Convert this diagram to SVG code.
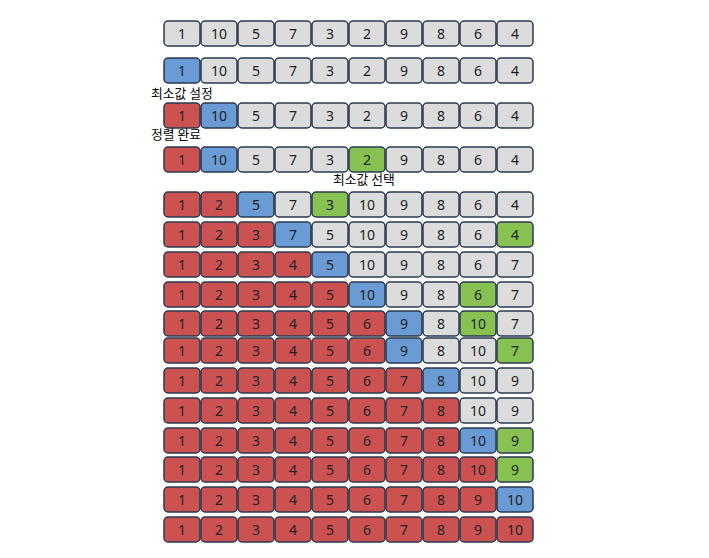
<svg xmlns="http://www.w3.org/2000/svg" width="709" height="558" viewBox="0 0 709 558">
<style>
rect{stroke:#2a3a50;stroke-width:1.5}
.g{fill:#dcdcdc}.b{fill:#6b9bd4}.r{fill:#cc5252}.v{fill:#87c152}
text.n{font-family:"Noto Sans","DejaVu Sans",sans-serif;font-size:14px;fill:#222;text-anchor:middle}
text.l{font-family:"Noto Sans CJK KR",sans-serif;font-size:12.8px;fill:#000}
</style>
<rect x="0" y="0" width="709" height="558" style="fill:#fff;stroke:none"/>
<g id="rows">
<g id="r1" transform="translate(0,21)">
<g id="r1c0"><rect class="g" x="164" y="0" width="36" height="25" rx="4"/><text class="n" x="182" y="17.5">1</text></g>
<g id="r1c1"><rect class="g" x="201" y="0" width="36" height="25" rx="4"/><text class="n" x="219" y="17.5">10</text></g>
<g id="r1c2"><rect class="g" x="238" y="0" width="36" height="25" rx="4"/><text class="n" x="256" y="17.5">5</text></g>
<g id="r1c3"><rect class="g" x="275" y="0" width="36" height="25" rx="4"/><text class="n" x="293" y="17.5">7</text></g>
<g id="r1c4"><rect class="g" x="312" y="0" width="36" height="25" rx="4"/><text class="n" x="330" y="17.5">3</text></g>
<g id="r1c5"><rect class="g" x="349" y="0" width="36" height="25" rx="4"/><text class="n" x="367" y="17.5">2</text></g>
<g id="r1c6"><rect class="g" x="386" y="0" width="36" height="25" rx="4"/><text class="n" x="404" y="17.5">9</text></g>
<g id="r1c7"><rect class="g" x="423" y="0" width="36" height="25" rx="4"/><text class="n" x="441" y="17.5">8</text></g>
<g id="r1c8"><rect class="g" x="460" y="0" width="36" height="25" rx="4"/><text class="n" x="478" y="17.5">6</text></g>
<g id="r1c9"><rect class="g" x="497" y="0" width="36" height="25" rx="4"/><text class="n" x="515" y="17.5">4</text></g>
</g>
<g id="r2" transform="translate(0,58)">
<g id="r2c0"><rect class="b" x="164" y="0" width="36" height="25" rx="4"/><text class="n" x="182" y="17.5">1</text></g>
<g id="r2c1"><rect class="g" x="201" y="0" width="36" height="25" rx="4"/><text class="n" x="219" y="17.5">10</text></g>
<g id="r2c2"><rect class="g" x="238" y="0" width="36" height="25" rx="4"/><text class="n" x="256" y="17.5">5</text></g>
<g id="r2c3"><rect class="g" x="275" y="0" width="36" height="25" rx="4"/><text class="n" x="293" y="17.5">7</text></g>
<g id="r2c4"><rect class="g" x="312" y="0" width="36" height="25" rx="4"/><text class="n" x="330" y="17.5">3</text></g>
<g id="r2c5"><rect class="g" x="349" y="0" width="36" height="25" rx="4"/><text class="n" x="367" y="17.5">2</text></g>
<g id="r2c6"><rect class="g" x="386" y="0" width="36" height="25" rx="4"/><text class="n" x="404" y="17.5">9</text></g>
<g id="r2c7"><rect class="g" x="423" y="0" width="36" height="25" rx="4"/><text class="n" x="441" y="17.5">8</text></g>
<g id="r2c8"><rect class="g" x="460" y="0" width="36" height="25" rx="4"/><text class="n" x="478" y="17.5">6</text></g>
<g id="r2c9"><rect class="g" x="497" y="0" width="36" height="25" rx="4"/><text class="n" x="515" y="17.5">4</text></g>
</g>
<g id="r3" transform="translate(0,103)">
<g id="r3c0"><rect class="r" x="164" y="0" width="36" height="25" rx="4"/><text class="n" x="182" y="17.5">1</text></g>
<g id="r3c1"><rect class="b" x="201" y="0" width="36" height="25" rx="4"/><text class="n" x="219" y="17.5">10</text></g>
<g id="r3c2"><rect class="g" x="238" y="0" width="36" height="25" rx="4"/><text class="n" x="256" y="17.5">5</text></g>
<g id="r3c3"><rect class="g" x="275" y="0" width="36" height="25" rx="4"/><text class="n" x="293" y="17.5">7</text></g>
<g id="r3c4"><rect class="g" x="312" y="0" width="36" height="25" rx="4"/><text class="n" x="330" y="17.5">3</text></g>
<g id="r3c5"><rect class="g" x="349" y="0" width="36" height="25" rx="4"/><text class="n" x="367" y="17.5">2</text></g>
<g id="r3c6"><rect class="g" x="386" y="0" width="36" height="25" rx="4"/><text class="n" x="404" y="17.5">9</text></g>
<g id="r3c7"><rect class="g" x="423" y="0" width="36" height="25" rx="4"/><text class="n" x="441" y="17.5">8</text></g>
<g id="r3c8"><rect class="g" x="460" y="0" width="36" height="25" rx="4"/><text class="n" x="478" y="17.5">6</text></g>
<g id="r3c9"><rect class="g" x="497" y="0" width="36" height="25" rx="4"/><text class="n" x="515" y="17.5">4</text></g>
</g>
<g id="r4" transform="translate(0,147)">
<g id="r4c0"><rect class="r" x="164" y="0" width="36" height="25" rx="4"/><text class="n" x="182" y="17.5">1</text></g>
<g id="r4c1"><rect class="b" x="201" y="0" width="36" height="25" rx="4"/><text class="n" x="219" y="17.5">10</text></g>
<g id="r4c2"><rect class="g" x="238" y="0" width="36" height="25" rx="4"/><text class="n" x="256" y="17.5">5</text></g>
<g id="r4c3"><rect class="g" x="275" y="0" width="36" height="25" rx="4"/><text class="n" x="293" y="17.5">7</text></g>
<g id="r4c4"><rect class="g" x="312" y="0" width="36" height="25" rx="4"/><text class="n" x="330" y="17.5">3</text></g>
<g id="r4c5"><rect class="v" x="349" y="0" width="36" height="25" rx="4"/><text class="n" x="367" y="17.5">2</text></g>
<g id="r4c6"><rect class="g" x="386" y="0" width="36" height="25" rx="4"/><text class="n" x="404" y="17.5">9</text></g>
<g id="r4c7"><rect class="g" x="423" y="0" width="36" height="25" rx="4"/><text class="n" x="441" y="17.5">8</text></g>
<g id="r4c8"><rect class="g" x="460" y="0" width="36" height="25" rx="4"/><text class="n" x="478" y="17.5">6</text></g>
<g id="r4c9"><rect class="g" x="497" y="0" width="36" height="25" rx="4"/><text class="n" x="515" y="17.5">4</text></g>
</g>
<g id="r5" transform="translate(0,192)">
<g id="r5c0"><rect class="r" x="164" y="0" width="36" height="25" rx="4"/><text class="n" x="182" y="17.5">1</text></g>
<g id="r5c1"><rect class="r" x="201" y="0" width="36" height="25" rx="4"/><text class="n" x="219" y="17.5">2</text></g>
<g id="r5c2"><rect class="b" x="238" y="0" width="36" height="25" rx="4"/><text class="n" x="256" y="17.5">5</text></g>
<g id="r5c3"><rect class="g" x="275" y="0" width="36" height="25" rx="4"/><text class="n" x="293" y="17.5">7</text></g>
<g id="r5c4"><rect class="v" x="312" y="0" width="36" height="25" rx="4"/><text class="n" x="330" y="17.5">3</text></g>
<g id="r5c5"><rect class="g" x="349" y="0" width="36" height="25" rx="4"/><text class="n" x="367" y="17.5">10</text></g>
<g id="r5c6"><rect class="g" x="386" y="0" width="36" height="25" rx="4"/><text class="n" x="404" y="17.5">9</text></g>
<g id="r5c7"><rect class="g" x="423" y="0" width="36" height="25" rx="4"/><text class="n" x="441" y="17.5">8</text></g>
<g id="r5c8"><rect class="g" x="460" y="0" width="36" height="25" rx="4"/><text class="n" x="478" y="17.5">6</text></g>
<g id="r5c9"><rect class="g" x="497" y="0" width="36" height="25" rx="4"/><text class="n" x="515" y="17.5">4</text></g>
</g>
<g id="r6" transform="translate(0,222)">
<g id="r6c0"><rect class="r" x="164" y="0" width="36" height="25" rx="4"/><text class="n" x="182" y="17.5">1</text></g>
<g id="r6c1"><rect class="r" x="201" y="0" width="36" height="25" rx="4"/><text class="n" x="219" y="17.5">2</text></g>
<g id="r6c2"><rect class="r" x="238" y="0" width="36" height="25" rx="4"/><text class="n" x="256" y="17.5">3</text></g>
<g id="r6c3"><rect class="b" x="275" y="0" width="36" height="25" rx="4"/><text class="n" x="293" y="17.5">7</text></g>
<g id="r6c4"><rect class="g" x="312" y="0" width="36" height="25" rx="4"/><text class="n" x="330" y="17.5">5</text></g>
<g id="r6c5"><rect class="g" x="349" y="0" width="36" height="25" rx="4"/><text class="n" x="367" y="17.5">10</text></g>
<g id="r6c6"><rect class="g" x="386" y="0" width="36" height="25" rx="4"/><text class="n" x="404" y="17.5">9</text></g>
<g id="r6c7"><rect class="g" x="423" y="0" width="36" height="25" rx="4"/><text class="n" x="441" y="17.5">8</text></g>
<g id="r6c8"><rect class="g" x="460" y="0" width="36" height="25" rx="4"/><text class="n" x="478" y="17.5">6</text></g>
<g id="r6c9"><rect class="v" x="497" y="0" width="36" height="25" rx="4"/><text class="n" x="515" y="17.5">4</text></g>
</g>
<g id="r7" transform="translate(0,252)">
<g id="r7c0"><rect class="r" x="164" y="0" width="36" height="25" rx="4"/><text class="n" x="182" y="17.5">1</text></g>
<g id="r7c1"><rect class="r" x="201" y="0" width="36" height="25" rx="4"/><text class="n" x="219" y="17.5">2</text></g>
<g id="r7c2"><rect class="r" x="238" y="0" width="36" height="25" rx="4"/><text class="n" x="256" y="17.5">3</text></g>
<g id="r7c3"><rect class="r" x="275" y="0" width="36" height="25" rx="4"/><text class="n" x="293" y="17.5">4</text></g>
<g id="r7c4"><rect class="b" x="312" y="0" width="36" height="25" rx="4"/><text class="n" x="330" y="17.5">5</text></g>
<g id="r7c5"><rect class="g" x="349" y="0" width="36" height="25" rx="4"/><text class="n" x="367" y="17.5">10</text></g>
<g id="r7c6"><rect class="g" x="386" y="0" width="36" height="25" rx="4"/><text class="n" x="404" y="17.5">9</text></g>
<g id="r7c7"><rect class="g" x="423" y="0" width="36" height="25" rx="4"/><text class="n" x="441" y="17.5">8</text></g>
<g id="r7c8"><rect class="g" x="460" y="0" width="36" height="25" rx="4"/><text class="n" x="478" y="17.5">6</text></g>
<g id="r7c9"><rect class="g" x="497" y="0" width="36" height="25" rx="4"/><text class="n" x="515" y="17.5">7</text></g>
</g>
<g id="r8" transform="translate(0,282)">
<g id="r8c0"><rect class="r" x="164" y="0" width="36" height="25" rx="4"/><text class="n" x="182" y="17.5">1</text></g>
<g id="r8c1"><rect class="r" x="201" y="0" width="36" height="25" rx="4"/><text class="n" x="219" y="17.5">2</text></g>
<g id="r8c2"><rect class="r" x="238" y="0" width="36" height="25" rx="4"/><text class="n" x="256" y="17.5">3</text></g>
<g id="r8c3"><rect class="r" x="275" y="0" width="36" height="25" rx="4"/><text class="n" x="293" y="17.5">4</text></g>
<g id="r8c4"><rect class="r" x="312" y="0" width="36" height="25" rx="4"/><text class="n" x="330" y="17.5">5</text></g>
<g id="r8c5"><rect class="b" x="349" y="0" width="36" height="25" rx="4"/><text class="n" x="367" y="17.5">10</text></g>
<g id="r8c6"><rect class="g" x="386" y="0" width="36" height="25" rx="4"/><text class="n" x="404" y="17.5">9</text></g>
<g id="r8c7"><rect class="g" x="423" y="0" width="36" height="25" rx="4"/><text class="n" x="441" y="17.5">8</text></g>
<g id="r8c8"><rect class="v" x="460" y="0" width="36" height="25" rx="4"/><text class="n" x="478" y="17.5">6</text></g>
<g id="r8c9"><rect class="g" x="497" y="0" width="36" height="25" rx="4"/><text class="n" x="515" y="17.5">7</text></g>
</g>
<g id="r9" transform="translate(0,311)">
<g id="r9c0"><rect class="r" x="164" y="0" width="36" height="25" rx="4"/><text class="n" x="182" y="17.5">1</text></g>
<g id="r9c1"><rect class="r" x="201" y="0" width="36" height="25" rx="4"/><text class="n" x="219" y="17.5">2</text></g>
<g id="r9c2"><rect class="r" x="238" y="0" width="36" height="25" rx="4"/><text class="n" x="256" y="17.5">3</text></g>
<g id="r9c3"><rect class="r" x="275" y="0" width="36" height="25" rx="4"/><text class="n" x="293" y="17.5">4</text></g>
<g id="r9c4"><rect class="r" x="312" y="0" width="36" height="25" rx="4"/><text class="n" x="330" y="17.5">5</text></g>
<g id="r9c5"><rect class="r" x="349" y="0" width="36" height="25" rx="4"/><text class="n" x="367" y="17.5">6</text></g>
<g id="r9c6"><rect class="b" x="386" y="0" width="36" height="25" rx="4"/><text class="n" x="404" y="17.5">9</text></g>
<g id="r9c7"><rect class="g" x="423" y="0" width="36" height="25" rx="4"/><text class="n" x="441" y="17.5">8</text></g>
<g id="r9c8"><rect class="v" x="460" y="0" width="36" height="25" rx="4"/><text class="n" x="478" y="17.5">10</text></g>
<g id="r9c9"><rect class="g" x="497" y="0" width="36" height="25" rx="4"/><text class="n" x="515" y="17.5">7</text></g>
</g>
<g id="r10" transform="translate(0,338)">
<g id="r10c0"><rect class="r" x="164" y="0" width="36" height="25" rx="4"/><text class="n" x="182" y="17.5">1</text></g>
<g id="r10c1"><rect class="r" x="201" y="0" width="36" height="25" rx="4"/><text class="n" x="219" y="17.5">2</text></g>
<g id="r10c2"><rect class="r" x="238" y="0" width="36" height="25" rx="4"/><text class="n" x="256" y="17.5">3</text></g>
<g id="r10c3"><rect class="r" x="275" y="0" width="36" height="25" rx="4"/><text class="n" x="293" y="17.5">4</text></g>
<g id="r10c4"><rect class="r" x="312" y="0" width="36" height="25" rx="4"/><text class="n" x="330" y="17.5">5</text></g>
<g id="r10c5"><rect class="r" x="349" y="0" width="36" height="25" rx="4"/><text class="n" x="367" y="17.5">6</text></g>
<g id="r10c6"><rect class="b" x="386" y="0" width="36" height="25" rx="4"/><text class="n" x="404" y="17.5">9</text></g>
<g id="r10c7"><rect class="g" x="423" y="0" width="36" height="25" rx="4"/><text class="n" x="441" y="17.5">8</text></g>
<g id="r10c8"><rect class="g" x="460" y="0" width="36" height="25" rx="4"/><text class="n" x="478" y="17.5">10</text></g>
<g id="r10c9"><rect class="v" x="497" y="0" width="36" height="25" rx="4"/><text class="n" x="515" y="17.5">7</text></g>
</g>
<g id="r11" transform="translate(0,368)">
<g id="r11c0"><rect class="r" x="164" y="0" width="36" height="25" rx="4"/><text class="n" x="182" y="17.5">1</text></g>
<g id="r11c1"><rect class="r" x="201" y="0" width="36" height="25" rx="4"/><text class="n" x="219" y="17.5">2</text></g>
<g id="r11c2"><rect class="r" x="238" y="0" width="36" height="25" rx="4"/><text class="n" x="256" y="17.5">3</text></g>
<g id="r11c3"><rect class="r" x="275" y="0" width="36" height="25" rx="4"/><text class="n" x="293" y="17.5">4</text></g>
<g id="r11c4"><rect class="r" x="312" y="0" width="36" height="25" rx="4"/><text class="n" x="330" y="17.5">5</text></g>
<g id="r11c5"><rect class="r" x="349" y="0" width="36" height="25" rx="4"/><text class="n" x="367" y="17.5">6</text></g>
<g id="r11c6"><rect class="r" x="386" y="0" width="36" height="25" rx="4"/><text class="n" x="404" y="17.5">7</text></g>
<g id="r11c7"><rect class="b" x="423" y="0" width="36" height="25" rx="4"/><text class="n" x="441" y="17.5">8</text></g>
<g id="r11c8"><rect class="g" x="460" y="0" width="36" height="25" rx="4"/><text class="n" x="478" y="17.5">10</text></g>
<g id="r11c9"><rect class="g" x="497" y="0" width="36" height="25" rx="4"/><text class="n" x="515" y="17.5">9</text></g>
</g>
<g id="r12" transform="translate(0,398)">
<g id="r12c0"><rect class="r" x="164" y="0" width="36" height="25" rx="4"/><text class="n" x="182" y="17.5">1</text></g>
<g id="r12c1"><rect class="r" x="201" y="0" width="36" height="25" rx="4"/><text class="n" x="219" y="17.5">2</text></g>
<g id="r12c2"><rect class="r" x="238" y="0" width="36" height="25" rx="4"/><text class="n" x="256" y="17.5">3</text></g>
<g id="r12c3"><rect class="r" x="275" y="0" width="36" height="25" rx="4"/><text class="n" x="293" y="17.5">4</text></g>
<g id="r12c4"><rect class="r" x="312" y="0" width="36" height="25" rx="4"/><text class="n" x="330" y="17.5">5</text></g>
<g id="r12c5"><rect class="r" x="349" y="0" width="36" height="25" rx="4"/><text class="n" x="367" y="17.5">6</text></g>
<g id="r12c6"><rect class="r" x="386" y="0" width="36" height="25" rx="4"/><text class="n" x="404" y="17.5">7</text></g>
<g id="r12c7"><rect class="r" x="423" y="0" width="36" height="25" rx="4"/><text class="n" x="441" y="17.5">8</text></g>
<g id="r12c8"><rect class="g" x="460" y="0" width="36" height="25" rx="4"/><text class="n" x="478" y="17.5">10</text></g>
<g id="r12c9"><rect class="g" x="497" y="0" width="36" height="25" rx="4"/><text class="n" x="515" y="17.5">9</text></g>
</g>
<g id="r13" transform="translate(0,428)">
<g id="r13c0"><rect class="r" x="164" y="0" width="36" height="25" rx="4"/><text class="n" x="182" y="17.5">1</text></g>
<g id="r13c1"><rect class="r" x="201" y="0" width="36" height="25" rx="4"/><text class="n" x="219" y="17.5">2</text></g>
<g id="r13c2"><rect class="r" x="238" y="0" width="36" height="25" rx="4"/><text class="n" x="256" y="17.5">3</text></g>
<g id="r13c3"><rect class="r" x="275" y="0" width="36" height="25" rx="4"/><text class="n" x="293" y="17.5">4</text></g>
<g id="r13c4"><rect class="r" x="312" y="0" width="36" height="25" rx="4"/><text class="n" x="330" y="17.5">5</text></g>
<g id="r13c5"><rect class="r" x="349" y="0" width="36" height="25" rx="4"/><text class="n" x="367" y="17.5">6</text></g>
<g id="r13c6"><rect class="r" x="386" y="0" width="36" height="25" rx="4"/><text class="n" x="404" y="17.5">7</text></g>
<g id="r13c7"><rect class="r" x="423" y="0" width="36" height="25" rx="4"/><text class="n" x="441" y="17.5">8</text></g>
<g id="r13c8"><rect class="b" x="460" y="0" width="36" height="25" rx="4"/><text class="n" x="478" y="17.5">10</text></g>
<g id="r13c9"><rect class="v" x="497" y="0" width="36" height="25" rx="4"/><text class="n" x="515" y="17.5">9</text></g>
</g>
<g id="r14" transform="translate(0,457)">
<g id="r14c0"><rect class="r" x="164" y="0" width="36" height="25" rx="4"/><text class="n" x="182" y="17.5">1</text></g>
<g id="r14c1"><rect class="r" x="201" y="0" width="36" height="25" rx="4"/><text class="n" x="219" y="17.5">2</text></g>
<g id="r14c2"><rect class="r" x="238" y="0" width="36" height="25" rx="4"/><text class="n" x="256" y="17.5">3</text></g>
<g id="r14c3"><rect class="r" x="275" y="0" width="36" height="25" rx="4"/><text class="n" x="293" y="17.5">4</text></g>
<g id="r14c4"><rect class="r" x="312" y="0" width="36" height="25" rx="4"/><text class="n" x="330" y="17.5">5</text></g>
<g id="r14c5"><rect class="r" x="349" y="0" width="36" height="25" rx="4"/><text class="n" x="367" y="17.5">6</text></g>
<g id="r14c6"><rect class="r" x="386" y="0" width="36" height="25" rx="4"/><text class="n" x="404" y="17.5">7</text></g>
<g id="r14c7"><rect class="r" x="423" y="0" width="36" height="25" rx="4"/><text class="n" x="441" y="17.5">8</text></g>
<g id="r14c8"><rect class="r" x="460" y="0" width="36" height="25" rx="4"/><text class="n" x="478" y="17.5">10</text></g>
<g id="r14c9"><rect class="v" x="497" y="0" width="36" height="25" rx="4"/><text class="n" x="515" y="17.5">9</text></g>
</g>
<g id="r15" transform="translate(0,487)">
<g id="r15c0"><rect class="r" x="164" y="0" width="36" height="25" rx="4"/><text class="n" x="182" y="17.5">1</text></g>
<g id="r15c1"><rect class="r" x="201" y="0" width="36" height="25" rx="4"/><text class="n" x="219" y="17.5">2</text></g>
<g id="r15c2"><rect class="r" x="238" y="0" width="36" height="25" rx="4"/><text class="n" x="256" y="17.5">3</text></g>
<g id="r15c3"><rect class="r" x="275" y="0" width="36" height="25" rx="4"/><text class="n" x="293" y="17.5">4</text></g>
<g id="r15c4"><rect class="r" x="312" y="0" width="36" height="25" rx="4"/><text class="n" x="330" y="17.5">5</text></g>
<g id="r15c5"><rect class="r" x="349" y="0" width="36" height="25" rx="4"/><text class="n" x="367" y="17.5">6</text></g>
<g id="r15c6"><rect class="r" x="386" y="0" width="36" height="25" rx="4"/><text class="n" x="404" y="17.5">7</text></g>
<g id="r15c7"><rect class="r" x="423" y="0" width="36" height="25" rx="4"/><text class="n" x="441" y="17.5">8</text></g>
<g id="r15c8"><rect class="r" x="460" y="0" width="36" height="25" rx="4"/><text class="n" x="478" y="17.5">9</text></g>
<g id="r15c9"><rect class="b" x="497" y="0" width="36" height="25" rx="4"/><text class="n" x="515" y="17.5">10</text></g>
</g>
<g id="r16" transform="translate(0,517)">
<g id="r16c0"><rect class="r" x="164" y="0" width="36" height="25" rx="4"/><text class="n" x="182" y="17.5">1</text></g>
<g id="r16c1"><rect class="r" x="201" y="0" width="36" height="25" rx="4"/><text class="n" x="219" y="17.5">2</text></g>
<g id="r16c2"><rect class="r" x="238" y="0" width="36" height="25" rx="4"/><text class="n" x="256" y="17.5">3</text></g>
<g id="r16c3"><rect class="r" x="275" y="0" width="36" height="25" rx="4"/><text class="n" x="293" y="17.5">4</text></g>
<g id="r16c4"><rect class="r" x="312" y="0" width="36" height="25" rx="4"/><text class="n" x="330" y="17.5">5</text></g>
<g id="r16c5"><rect class="r" x="349" y="0" width="36" height="25" rx="4"/><text class="n" x="367" y="17.5">6</text></g>
<g id="r16c6"><rect class="r" x="386" y="0" width="36" height="25" rx="4"/><text class="n" x="404" y="17.5">7</text></g>
<g id="r16c7"><rect class="r" x="423" y="0" width="36" height="25" rx="4"/><text class="n" x="441" y="17.5">8</text></g>
<g id="r16c8"><rect class="r" x="460" y="0" width="36" height="25" rx="4"/><text class="n" x="478" y="17.5">9</text></g>
<g id="r16c9"><rect class="r" x="497" y="0" width="36" height="25" rx="4"/><text class="n" x="515" y="17.5">10</text></g>
</g>
</g>
<g id="labels">
<text class="l" x="151" y="98">최소값 설정</text>
<text class="l" x="151" y="139">정렬 완료</text>
<text class="l" x="333" y="184">최소값 선택</text>
</g>
</svg>
